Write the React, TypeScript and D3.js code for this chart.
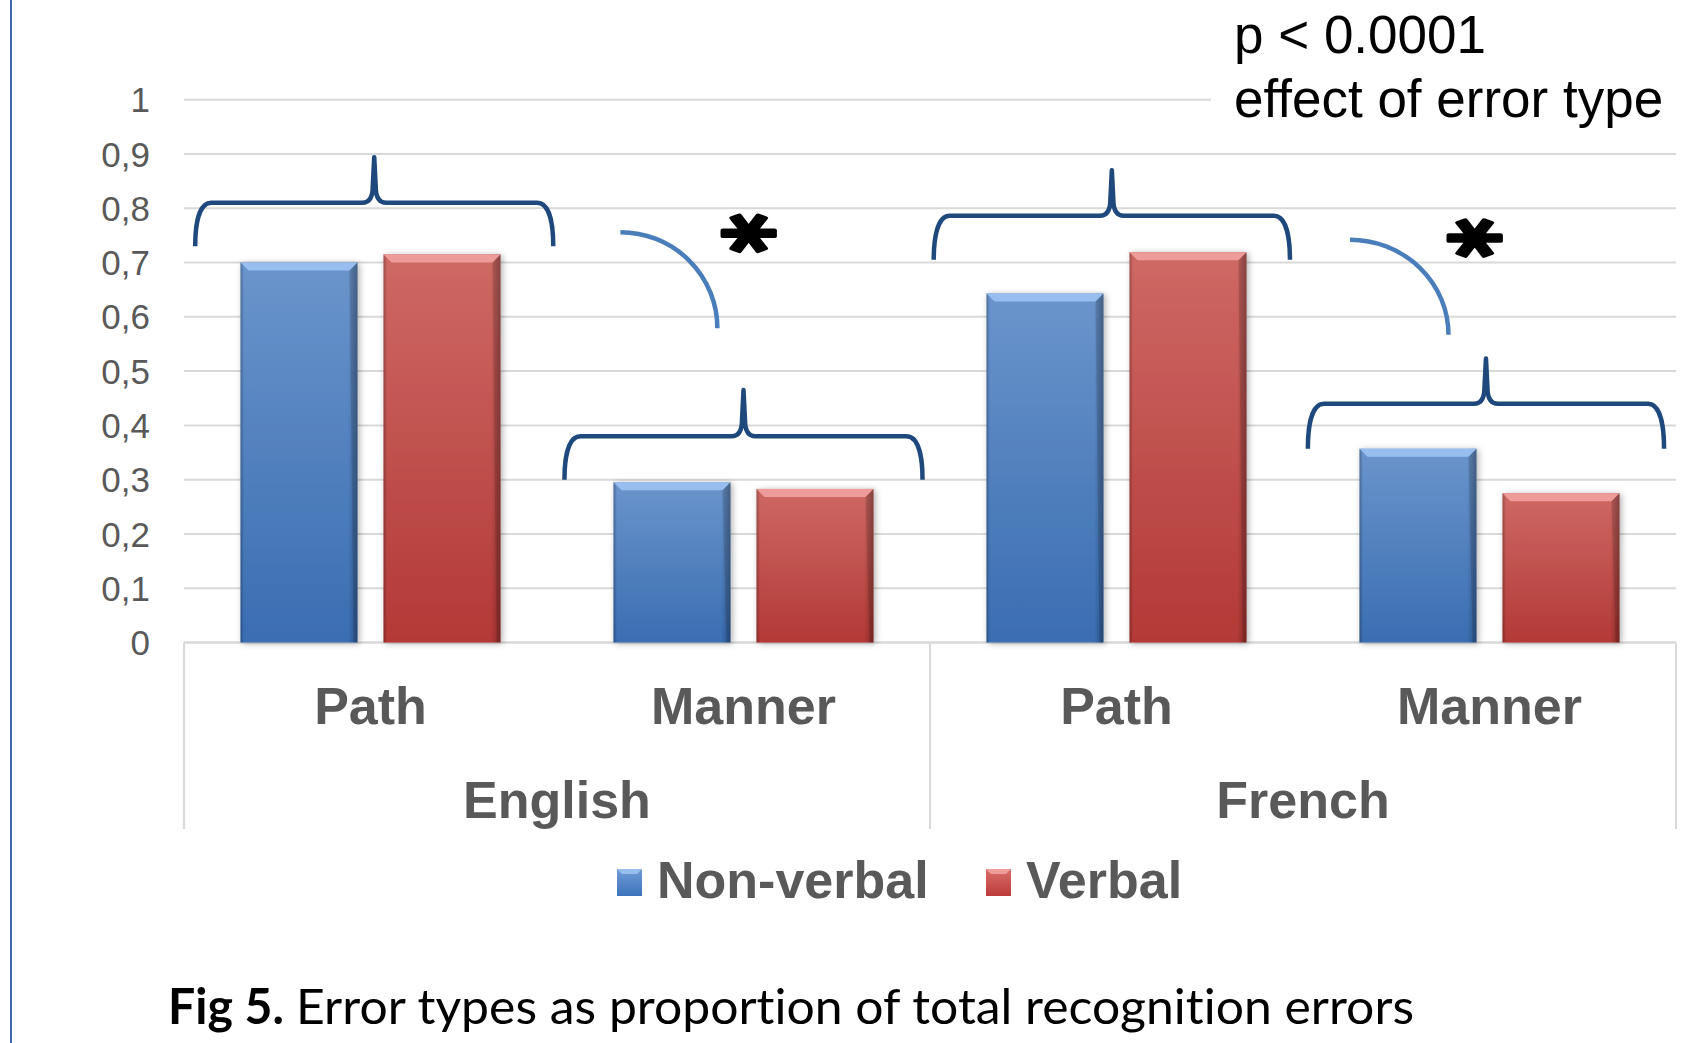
import React from "react";
import * as d3 from "d3";

const languages = ["English", "French"];
const errorTypes = ["Path", "Manner"];
const seriesNames = ["Non-verbal", "Verbal"];
const nonVerbal = [0.7, 0.295, 0.643, 0.357];
const verbal = [0.715, 0.283, 0.719, 0.275];
const yTicks = [0, 0.1, 0.2, 0.3, 0.4, 0.5, 0.6, 0.7, 0.8, 0.9, 1];

// braces above each pair (value units)
const braceEnd = [0.73, 0.3, 0.705, 0.357];
const braceBar = [0.81, 0.38, 0.786, 0.44];
const braceTip = [0.894, 0.465, 0.87, 0.523];
const braceLeft = [0.03, 0.02, 0.01, 0.013];
const braceRight = [0.99, 0.98, 0.965, 0.968];

// arcs + asterisks for the Manner pairs
const arcCats = [1, 3];
const arcStart = [0.756, 0.742];
const arcEnd = [0.579, 0.567];
const arcX0 = [0.17, 0.126];
const arcX1 = [0.43, 0.39];
const starY = [0.754, 0.745];
const starX = [0.51, 0.456];

const W = 1699;
const H = 1043;
const left = 184;
const right = 1676;
const y0 = 642.5;
const y1 = 99.7;
const grey = "#595959";
const sans = "'Liberation Sans', Arial, sans-serif";

const categories = languages.flatMap((l) => errorTypes.map((t) => `${l}|${t}`));

const App: React.FC = () => {
  const y = d3.scaleLinear().domain([0, 1]).range([y0, y1]);
  const x = d3.scaleBand<string>().domain(categories).range([left, right]).padding(0);
  const xLang = d3.scaleBand<string>().domain(languages).range([left, right]).padding(0);
  const inner = d3
    .scaleBand<string>()
    .domain(seriesNames)
    .range([0, x.bandwidth()])
    .paddingInner(0.182)
    .paddingOuter(0.395);
  const bw = x.bandwidth();

  const bar = (cat: string, s: string, v: number, key: string) => {
    const bx = (x(cat) || 0) + (inner(s) || 0);
    const w = inner.bandwidth();
    const top = y(v);
    const h = y0 - top;
    const c = s === "Verbal" ? "red" : "blue";
    const bev = 8;
    return (
      <g key={key} filter="url(#shadow)">
        <rect x={bx} y={top} width={w} height={h} fill={`url(#grad-${c})`} />
        <rect x={bx} y={top} width={w} height={h} fill="url(#edge)" />
        <polygon
          points={`${bx},${top} ${bx + w},${top} ${bx + w - bev},${top + bev} ${bx + bev},${top + bev}`}
          fill={c === "red" ? "#EE9C99" : "#97BEEE"}
        />
        <polygon
          points={`${bx + w},${top} ${bx + w},${top + h} ${bx + w - 4},${top + h} ${bx + w - bev},${top + bev}`}
          fill="rgba(0,0,0,0.12)"
        />
      </g>
    );
  };

  const bracePath = (i: number) => {
    const b = x(categories[i]) || 0;
    const x0 = b + braceLeft[i] * bw;
    const x1 = b + braceRight[i] * bw;
    const xc = (x0 + x1) / 2;
    const ye = y(braceEnd[i]);
    const yh = y(braceBar[i]);
    const yt = y(braceTip[i]);
    return [
      `M${x0},${ye}`,
      `C${x0},${ye - (ye - yh) * 0.45} ${x0 + 3},${yh} ${x0 + 16},${yh}`,
      `L${xc - 12},${yh}`,
      `Q${xc - 1.5},${yh} ${xc - 1.5},${yh - 16}`,
      `L${xc},${yt}`,
      `L${xc + 1.5},${yh - 16}`,
      `Q${xc + 1.5},${yh} ${xc + 12},${yh}`,
      `L${x1 - 16},${yh}`,
      `C${x1 - 3},${yh} ${x1},${ye - (ye - yh) * 0.45} ${x1},${ye}`,
    ].join(" ");
  };

  return (
    <svg
      width={W}
      height={H}
      style={{ position: "absolute", left: 0, top: 0, background: "#fff" }}
    >
      <defs>
        <linearGradient id="grad-blue" x1="0" y1="0" x2="0" y2="1">
          <stop offset="0%" stopColor="#709CD6" />
          <stop offset="100%" stopColor="#3D73BB" />
        </linearGradient>
        <linearGradient id="grad-red" x1="0" y1="0" x2="0" y2="1">
          <stop offset="0%" stopColor="#D96E6A" />
          <stop offset="100%" stopColor="#BC3C39" />
        </linearGradient>
        <linearGradient id="edge" x1="0" y1="0" x2="1" y2="0">
          <stop offset="0%" stopColor="#000" stopOpacity="0.3" />
          <stop offset="3%" stopColor="#000" stopOpacity="0.05" />
          <stop offset="92%" stopColor="#000" stopOpacity="0.05" />
          <stop offset="100%" stopColor="#000" stopOpacity="0.3" />
        </linearGradient>
        <filter id="shadow" x="-10%" y="-5%" width="125%" height="112%">
          <feDropShadow dx="2" dy="1" stdDeviation="3" floodColor="#000" floodOpacity="0.3" />
        </filter>
      </defs>

      {/* left border line */}
      <line x1={11} x2={11} y1={0} y2={H} stroke="#3F68AE" strokeWidth={2} />

      {/* gridlines */}
      {yTicks.map((t) => (
        <line
          key={`g${t}`}
          x1={left}
          x2={t === 1 ? 1211 : right}
          y1={y(t)}
          y2={y(t)}
          stroke="#D9D9D9"
          strokeWidth={t === 0 ? 2.5 : 2}
        />
      ))}
      {yTicks.map((t) => (
        <text
          key={`t${t}`}
          x={150}
          y={y(t)}
          dy="0.36em"
          textAnchor="end"
          fontFamily={sans}
          fontSize={35}
          fill={grey}
        >
          {t === 0 ? "0" : t === 1 ? "1" : d3.format(".1f")(t).replace(".", ",")}
        </text>
      ))}

      {/* category axis dividers */}
      {[left, xLang("French") || 0, right].map((d, i) => (
        <line key={`d${i}`} x1={d} x2={d} y1={y0} y2={829} stroke="#D9D9D9" strokeWidth={2} />
      ))}

      {/* bars */}
      {categories.map((cat, i) => (
        <g key={cat}>
          {bar(cat, "Non-verbal", nonVerbal[i], `${cat}-nv`)}
          {bar(cat, "Verbal", verbal[i], `${cat}-v`)}
        </g>
      ))}

      {/* category labels */}
      {categories.map((cat) => (
        <text
          key={`l${cat}`}
          x={(x(cat) || 0) + bw / 2}
          y={724}
          textAnchor="middle"
          fontFamily={sans}
          fontWeight="bold"
          fontSize={52}
          fill={grey}
        >
          {cat.split("|")[1]}
        </text>
      ))}
      {languages.map((l) => (
        <text
          key={`lang${l}`}
          x={(xLang(l) || 0) + xLang.bandwidth() / 2}
          y={818}
          textAnchor="middle"
          fontFamily={sans}
          fontWeight="bold"
          fontSize={52}
          fill={grey}
        >
          {l}
        </text>
      ))}

      {/* braces */}
      {categories.map((cat, i) => (
        <path
          key={`b${cat}`}
          d={bracePath(i)}
          fill="none"
          stroke="#1F497D"
          strokeWidth={4.5}
          strokeLinejoin="round"
        />
      ))}

      {/* arcs and asterisks */}
      {arcCats.map((ci, k) => {
        const b = x(categories[ci]) || 0;
        const xs = b + arcX0[k] * bw;
        const xe = b + arcX1[k] * bw;
        const ys = y(arcStart[k]);
        const ye = y(arcEnd[k]);
        return (
          <path
            key={`a${k}`}
            d={`M${xs},${ys} A${xe - xs},${ye - ys} 0 0 1 ${xe},${ye}`}
            fill="none"
            stroke="#4A7EBB"
            strokeWidth={4.5}
          />
        );
      })}
      {arcCats.map((ci, k) => {
        const b = x(categories[ci]) || 0;
        const cx = b + starX[k] * bw;
        const cy = y(starY[k]);
        return (
          <g key={`s${k}`} transform={`translate(${cx},${cy}) scale(1,0.68) rotate(90)`}>
            <text
              x={0}
              y={55}
              textAnchor="middle"
              fontFamily="'DejaVu Sans', sans-serif"
              fontWeight="bold"
              fontSize={110}
              fill="#000"
              stroke="#000"
              strokeWidth={5}
              strokeLinejoin="round"
            >
              *
            </text>
          </g>
        );
      })}

      {/* p-value note */}
      <text x={1234} y={53} fontFamily={sans} fontSize={53} fill="#000">
        p &lt; 0.0001
      </text>
      <text x={1234} y={117} fontFamily={sans} fontSize={53} fill="#000">
        effect of error type
      </text>

      {/* legend */}
      {seriesNames.map((s, i) => {
        const sx = i === 0 ? 617 : 986;
        const c = i === 0 ? "blue" : "red";
        return (
          <g key={`leg${s}`}>
            <rect x={sx} y={869} width={25} height={27} fill={`url(#grad-${c})`} />
            <polygon
              points={`${sx},869 ${sx + 25},869 ${sx + 20},874 ${sx + 5},874`}
              fill={c === "red" ? "#EE9C99" : "#97BEEE"}
            />
            <text
              x={sx + 40}
              y={898}
              fontFamily={sans}
              fontWeight="bold"
              fontSize={52}
              fill={grey}
            >
              {s}
            </text>
          </g>
        );
      })}

      {/* caption */}
      <text
        x={168}
        y={1024}
        fontFamily="Lato, 'Open Sans', sans-serif"
        fontWeight="bold"
        fontSize={49}
        fill="#000"
        textLength={116}
        lengthAdjust="spacingAndGlyphs"
        style={{ fontVariantLigatures: "none" }}
      >
        Fig 5.
      </text>
      <text
        x={296}
        y={1024}
        fontFamily="Lato, 'Open Sans', sans-serif"
        fontSize={49}
        fill="#000"
        textLength={1118}
        lengthAdjust="spacingAndGlyphs"
        style={{ fontVariantLigatures: "none" }}
      >
        Error types as proportion of total recognition errors
      </text>
    </svg>
  );
};

export default App;
